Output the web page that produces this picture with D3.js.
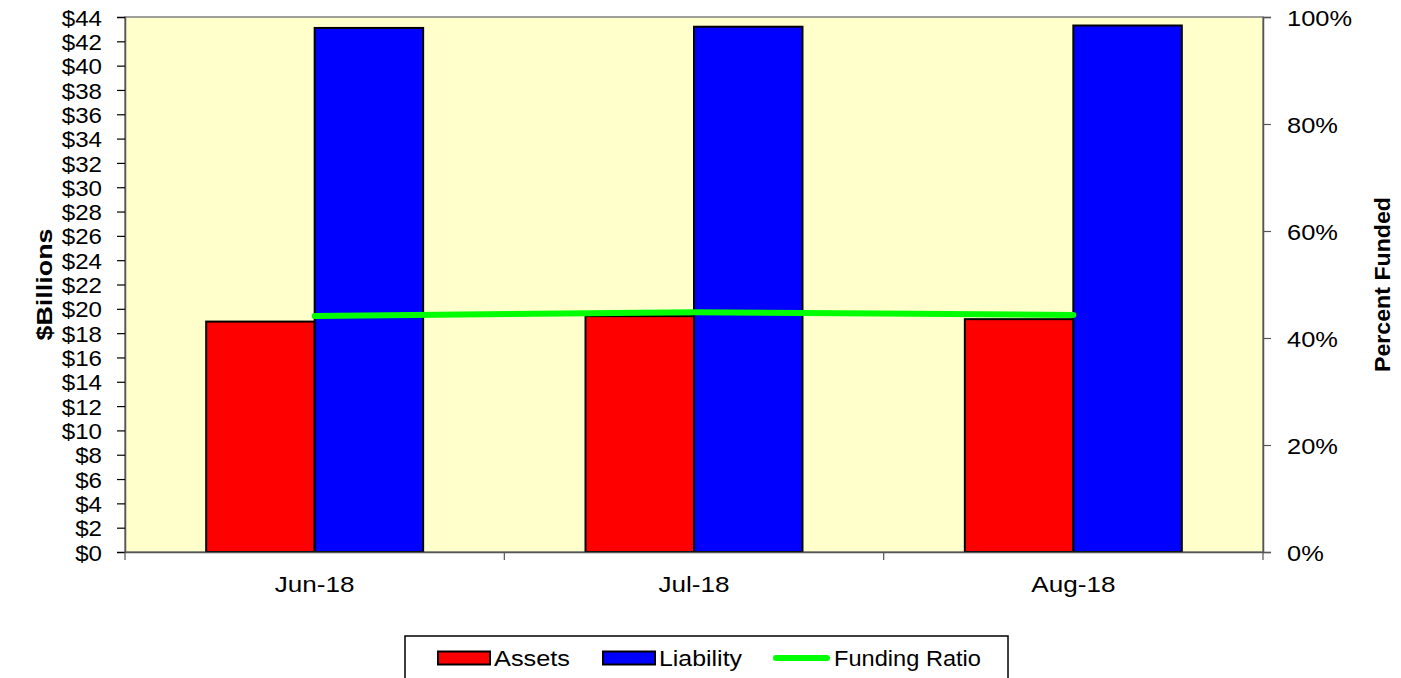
<!DOCTYPE html>
<html><head><meta charset="utf-8">
<script src="https://cdn.jsdelivr.net/npm/d3@7"></script>
<style>body{margin:0;background:#fff}svg{display:block}text{font-family:"Liberation Sans",Arial,sans-serif;fill:#000}</style>
</head><body>
<svg id="c" width="1401" height="678"></svg>
<script>
const categories = ["Jun-18", "Jul-18", "Aug-18"];
const assets = [18.95, 19.4, 19.15];
const liability = [43.1, 43.2, 43.3];
const fundingRatio = [0.441, 0.448, 0.443];
const leftTicks = d3.range(0, 45, 2);
const rightTicks = [0, 0.2, 0.4, 0.6, 0.8, 1.0];
const seriesNames = ["Assets", "Liability", "Funding Ratio"];

const svg = d3.select("#c");
const L = 125, R = 1263, T = 17, B = 552;
const FS = 22.5;
const x = d3.scaleBand().domain(categories).range([L, R]);
const y = d3.scaleLinear().domain([0, 44]).range([B, T]);
const y2 = d3.scaleLinear().domain([0, 1]).range([B, T]);
const barW = x.bandwidth() * 0.286;

function stretch(sel, k) {
  sel.each(function() {
    const n = this.getComputedTextLength();
    d3.select(this).attr("textLength", n * k).attr("lengthAdjust", "spacingAndGlyphs");
  });
}

svg.append("rect").attr("x", L).attr("y", T).attr("width", R - L).attr("height", B - T)
  .attr("fill", "#ffffcc").attr("stroke", "#808080").attr("stroke-width", 1.5);

const g = svg.append("g");
categories.forEach((c, i) => {
  const cx = x(c) + x.bandwidth() / 2;
  g.append("rect").attr("x", cx - barW).attr("y", y(assets[i])).attr("width", barW)
    .attr("height", y(0) - y(assets[i])).attr("fill", "#ff0000").attr("stroke", "#000").attr("stroke-width", 2);
  g.append("rect").attr("x", cx).attr("y", y(liability[i])).attr("width", barW)
    .attr("height", y(0) - y(liability[i])).attr("fill", "#0000ff").attr("stroke", "#000").attr("stroke-width", 2);
});

const line = d3.line().x((d, i) => x(categories[i]) + x.bandwidth() / 2).y(d => y2(d)).curve(d3.curveCardinal.tension(0.5));
svg.append("path").datum(fundingRatio).attr("d", line).attr("fill", "none")
  .attr("stroke", "#00ff00").attr("stroke-width", 6).attr("stroke-linecap", "round");

// left axis
const la = svg.append("g").attr("transform", `translate(${L},0)`)
  .call(d3.axisLeft(y).tickValues(leftTicks).tickFormat(d => "$" + d).tickSize(8).tickPadding(15));
la.select(".domain").attr("stroke", "#555").attr("stroke-width", 1.5);
la.selectAll(".tick line").attr("stroke", "#000").attr("stroke-width", 1.2);
la.selectAll("text").style("font-size", FS + "px").attr("dy", "0.36em").call(stretch, 1.07);

// right axis
const ra = svg.append("g").attr("transform", `translate(${R},0)`)
  .call(d3.axisRight(y2).tickValues(rightTicks).tickFormat(d3.format(".0%")).tickSize(8).tickPadding(16));
ra.select(".domain").attr("stroke", "#555").attr("stroke-width", 1.5);
ra.selectAll(".tick line").attr("stroke", "#555").attr("stroke-width", 1.2);
ra.selectAll("text").style("font-size", FS + "px").attr("dy", "0.36em").call(stretch, 1.13);

// x axis
const xa = svg.append("g").attr("transform", `translate(0,${B})`)
  .call(d3.axisBottom(x).tickSize(0).tickPadding(0));
xa.select(".domain").attr("stroke", "#555").attr("stroke-width", 1.5);
xa.selectAll("text").attr("dy", null).attr("y", 40).style("font-size", FS + "px").call(stretch, 1.16);
const bounds = categories.map(c => x(c)).concat([R]);
xa.selectAll(".bt").data(bounds).enter().append("line").attr("class", "bt")
  .attr("x1", d => d).attr("x2", d => d).attr("y1", 0).attr("y2", 8).attr("stroke", "#555").attr("stroke-width", 1.2);

// axis titles
svg.append("text").attr("transform", `translate(44,${(T + B) / 2}) rotate(-90)`).attr("text-anchor", "middle")
  .attr("dy", "0.35em").style("font-size", FS + "px").style("font-weight", "bold")
  .attr("textLength", 112).attr("lengthAdjust", "spacingAndGlyphs").text("$Billions");
svg.append("text").attr("transform", `translate(1382,${(T + B) / 2}) rotate(-90)`).attr("text-anchor", "middle")
  .attr("dy", "0.35em").style("font-size", FS + "px").style("font-weight", "bold")
  .attr("textLength", 175).attr("lengthAdjust", "spacingAndGlyphs").text("Percent Funded");

// legend
const lg = svg.append("g");
lg.append("rect").attr("x", 405).attr("y", 636).attr("width", 603).attr("height", 44).attr("fill", "#fff").attr("stroke", "#000").attr("stroke-width", 1.5);
const ly = 658;
const legendX = [438, 603, 776];
const legendTextW = [76, 83, 147];
seriesNames.forEach((name, i) => {
  const lx = legendX[i];
  if (i < 2) {
    lg.append("rect").attr("x", lx).attr("y", ly - 6.5).attr("width", 52).attr("height", 13)
      .attr("fill", i === 0 ? "#ff0000" : "#0000ff").attr("stroke", "#000").attr("stroke-width", 2);
  } else {
    lg.append("line").attr("x1", lx).attr("x2", lx + 51).attr("y1", ly).attr("y2", ly)
      .attr("stroke", "#00ff00").attr("stroke-width", 6).attr("stroke-linecap", "round");
  }
  lg.append("text").attr("x", lx + (i < 2 ? 56 : 58)).attr("y", ly).attr("dy", "0.36em").style("font-size", FS + "px")
    .attr("textLength", legendTextW[i]).attr("lengthAdjust", "spacingAndGlyphs").text(name);
});
</script>
</body></html>
